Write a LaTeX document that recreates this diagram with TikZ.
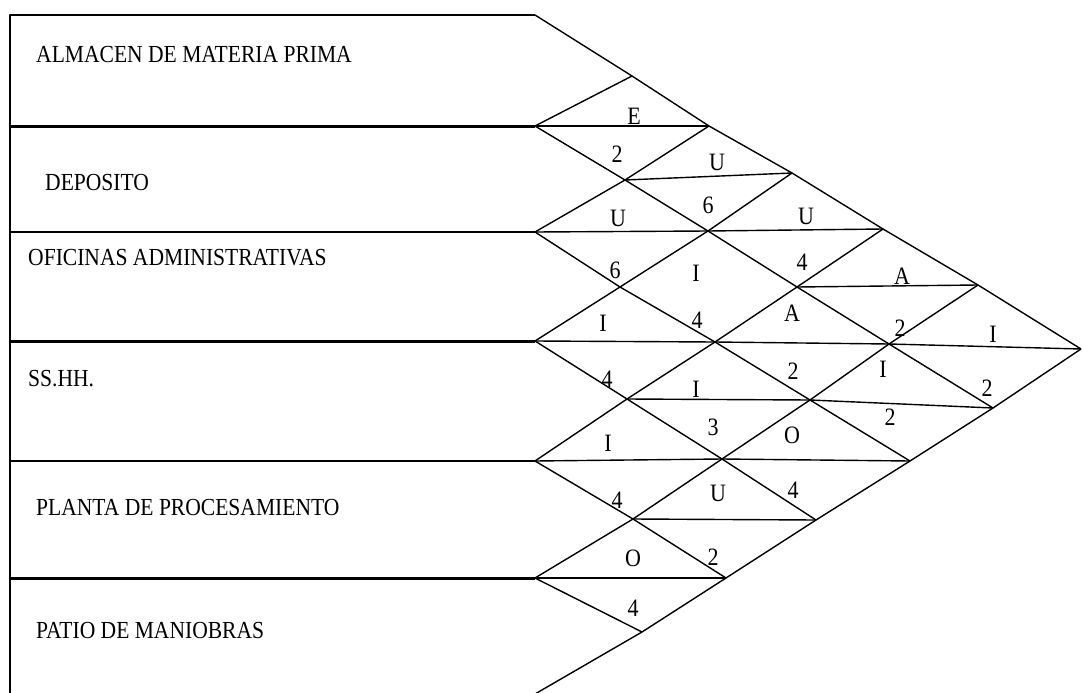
\documentclass[tikz,border=0pt]{standalone}
\usepackage{fontspec}
\setmainfont{Liberation Serif}
\newfontfamily\chartfont[FakeStretch=0.88]{Liberation Serif}
\begin{document}
\begin{tikzpicture}[x=1pt,y=-1pt,
  rule/.style={line width=1.4pt, line join=round},
  septhick/.style={line width=3pt},
  sepmid/.style={line width=2pt},
  dept/.style={anchor=base west, inner sep=0pt, font=\chartfont\fontsize{24.5}{26}\selectfont},
  code/.style={inner sep=0pt, font=\chartfont\fontsize{25}{26}\selectfont}]
\useasboundingbox (0,0) rectangle (1082,693);

% left border of the department list
\coordinate (B0) at (10,15);
\coordinate (B1) at (10,126);
\coordinate (B2) at (10,232);
\coordinate (B3) at (10,341);
\coordinate (B4) at (10,461);
\coordinate (B5) at (10,578);
\coordinate (B6) at (10,693);

% row boundaries where the chart begins
\coordinate (L0) at (535,15);
\coordinate (L1) at (535,126);
\coordinate (L2) at (535,232);
\coordinate (L3) at (535,341);
\coordinate (L4) at (535,461);
\coordinate (L5) at (535,578);
\coordinate (L6) at (535,694);

% crossing points of the diagonal grid
\coordinate (P01) at (632,76);
\coordinate (P12) at (625,180);
\coordinate (P23) at (620,287);
\coordinate (P34) at (627,399);
\coordinate (P45) at (633,519);
\coordinate (P56) at (642,632);

\coordinate (P02) at (709,126);
\coordinate (P13) at (708,231);
\coordinate (P24) at (715,342);
\coordinate (P35) at (722,459);
\coordinate (P46) at (726,578);

\coordinate (P03) at (792,173);
\coordinate (P14) at (797,287);
\coordinate (P25) at (810,400);
\coordinate (P36) at (816,520);

\coordinate (P04) at (883,229);
\coordinate (P15) at (889,344);
\coordinate (P26) at (910,461);

\coordinate (P05) at (978,285);
\coordinate (P16) at (993,408);

\coordinate (P06) at (1081,349);

% frame and row separators
\draw[rule] (B6) -- (B0) -- (L0);
\draw[septhick] (B1) -- (L1);
\draw[sepmid] (B2) -- (L2);
\draw[septhick] (B3) -- (L3);
\draw[sepmid] (B4) -- (L4);
\draw[septhick] (B5) -- (L5);

% descending diagonals
\draw[rule] (L0) -- (P01) -- (P02) -- (P03) -- (P04) -- (P05) -- (P06);
\draw[rule] (L1) -- (P12) -- (P13) -- (P14) -- (P15) -- (P16);
\draw[rule] (L2) -- (P23) -- (P24) -- (P25) -- (P26);
\draw[rule] (L3) -- (P34) -- (P35) -- (P36);
\draw[rule] (L4) -- (P45) -- (P46);
\draw[rule] (L5) -- (P56);

% ascending diagonals
\draw[rule] (L1) -- (P01);
\draw[rule] (L2) -- (P12) -- (P02);
\draw[rule] (L3) -- (P23) -- (P13) -- (P03);
\draw[rule] (L4) -- (P34) -- (P24) -- (P14) -- (P04);
\draw[rule] (L5) -- (P45) -- (P35) -- (P25) -- (P15) -- (P05);
\draw[rule] (L6) -- (P56) -- (P46) -- (P36) -- (P26) -- (P16) -- (P06);

% dividers between letter and value
\draw[rule] (L1) -- (P02);
\draw[rule] (P12) -- (P03);
\draw[rule] (L2) -- (P13) -- (P04);
\draw[rule] (P14) -- (P05);
\draw[rule] (L3) -- (P24) -- (P15) -- (P06);
\draw[rule] (P34) -- (P25) -- (P16);
\draw[rule] (L4) -- (P35) -- (P26);
\draw[rule] (P45) -- (P36);
\draw[rule] (L5) -- (P46);

% departments
\node[dept] (d0) at (36,63)  {ALMACEN DE MATERIA PRIMA};
\node[dept] (d1) at (45,190) {DEPOSITO};
\node[dept] (d2) at (28,265) {OFICINAS ADMINISTRATIVAS};
\node[dept] (d3) at (28,386) {SS.HH.};
\node[dept] (d4) at (36,515) {PLANTA DE PROCESAMIENTO};
\node[dept] (d5) at (36,638) {PATIO DE MANIOBRAS};

% closeness ratings and reasons
\node[code] (e01) at (634,116) {E};
\node[code] (r01) at (617,154) {2};
\node[code] (e02) at (717,162) {U};
\node[code] (r02) at (708,205) {6};
\node[code] (e12) at (618,218) {U};
\node[code] (r12) at (615,270) {6};
\node[code] (e03) at (806,216) {U};
\node[code] (r03) at (802,262) {4};
\node[code] (e13) at (696,273) {I};
\node[code] (r13) at (697,320) {4};
\node[code] (e23) at (603,323) {I};
\node[code] (r23) at (607,379) {4};
\node[code] (e04) at (902,276) {A};
\node[code] (r04) at (900,328) {2};
\node[code] (e14) at (792,313) {A};
\node[code] (r14) at (793,371) {2};
\node[code] (e24) at (696,389) {I};
\node[code] (r24) at (713,427) {3};
\node[code] (e34) at (608,443) {I};
\node[code] (r34) at (617,500) {4};
\node[code] (e05) at (993,334) {I};
\node[code] (r05) at (987,388) {2};
\node[code] (e15) at (883,369) {I};
\node[code] (r15) at (890,417) {2};
\node[code] (e25) at (792,435) {O};
\node[code] (r25) at (793,490) {4};
\node[code] (e35) at (718,493) {U};
\node[code] (r35) at (713,557) {2};
\node[code] (e45) at (633,558) {O};
\node[code] (r45) at (633,608) {4};
\end{tikzpicture}
\end{document}
